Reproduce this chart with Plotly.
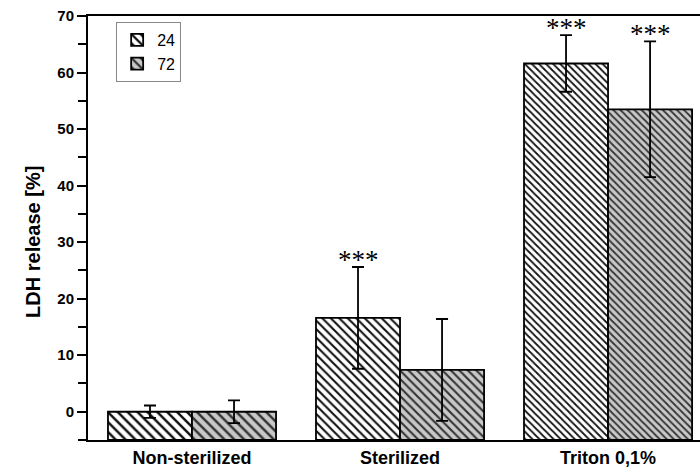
import plotly.graph_objects as go

# LDH release after 24 h and 72 h exposure
categories = ["Non-sterilized", "Sterilized", "Triton 0,1%"]
ldh_24 = [0.0, 16.6, 61.6]
err_24 = [1.1, 9.0, 5.0]
ldh_72 = [0.0, 7.4, 53.5]
err_72 = [2.0, 9.0, 12.0]
series_names = ["24", "72"]
stars_24 = ["", "***", "***"]
stars_72 = ["", "", "***"]
y_ticks = [0, 10, 20, 30, 40, 50, 60, 70]
y_min, y_max = -5, 70
y_title = "LDH release [%]"

FONT = "Liberation Sans, Arial, sans-serif"
x_pos = list(range(len(categories)))
bar_w = 0.404
pat_size = [7, 6, 5]


def lengths(vals):
    # bars rise from the bottom of the value axis up to each value
    return [v - y_min for v in vals]


fig = go.Figure()
fig.add_trace(go.Bar(
    x=x_pos, y=lengths(ldh_24), base=y_min, name=series_names[0],
    width=bar_w, offset=-bar_w,
    marker=dict(color="white", line=dict(color="black", width=1.8),
                pattern=dict(shape="\\", size=pat_size, solidity=0.35,
                             fgcolor="#111111", bgcolor="white", fillmode="replace")),
    error_y=dict(type="data", array=err_24, color="black", thickness=1.8, width=6),
))
fig.add_trace(go.Bar(
    x=x_pos, y=lengths(ldh_72), base=y_min, name=series_names[1],
    width=bar_w, offset=0,
    marker=dict(color="#c8c8c8", line=dict(color="black", width=1.8),
                pattern=dict(shape="\\", size=pat_size, solidity=0.35,
                             fgcolor="#333333", bgcolor="#c8c8c8", fillmode="replace")),
    error_y=dict(type="data", array=err_72, color="black", thickness=1.8, width=6),
))

# significance markers above the error bars
annotations = []
for i in x_pos:
    for stars, vals, errs, dx in ((stars_24, ldh_24, err_24, -bar_w / 2),
                                  (stars_72, ldh_72, err_72, bar_w / 2)):
        if stars[i]:
            annotations.append(dict(
                x=i + dx, y=vals[i] + errs[i], text=stars[i], showarrow=False,
                xanchor="center", yanchor="bottom", yshift=-10,
                font=dict(family="Liberation Serif, Times New Roman, serif", size=27, color="#000000"),
            ))

# value-axis title
annotations.append(dict(
    xref="paper", yref="paper", x=-0.09, y=0.467, text=y_title,
    textangle=-90, showarrow=False, xanchor="center", yanchor="middle",
    font=dict(family=FONT, size=20, color="black", weight="bold"),
))

fig.update_layout(
    template="none",
    width=700, height=468,
    margin=dict(l=88, r=0, t=16, b=28),
    plot_bgcolor="white", paper_bgcolor="white",
    font=dict(family=FONT, color="#000000"),
    showlegend=True,
    legend=dict(x=0.046, y=0.986, xanchor="left", yanchor="top",
                bgcolor="white", bordercolor="#888888", borderwidth=1,
                font=dict(family=FONT, size=16, color="black"),
                tracegroupgap=0, itemwidth=30),
    annotations=annotations,
)
fig.update_xaxes(
    range=[-0.5, 2.442], tickvals=x_pos, ticktext=categories,
    showline=True, linecolor="black", linewidth=2, mirror=True,
    ticks="", showgrid=False, zeroline=False,
    tickfont=dict(family=FONT, size=18, color="black", weight="bold"),
)
fig.update_yaxes(
    range=[y_min, y_max], tickvals=y_ticks,
    showline=True, linecolor="black", linewidth=2,
    ticks="outside", ticklen=9, tickwidth=2, tickcolor="black",
    minor=dict(dtick=5, ticks="outside", ticklen=8, tickwidth=2, tickcolor="black"),
    showgrid=False, zeroline=False,
    tickfont=dict(family=FONT, size=15, color="black", weight="bold"),
)

fig.write_html("out.html")
